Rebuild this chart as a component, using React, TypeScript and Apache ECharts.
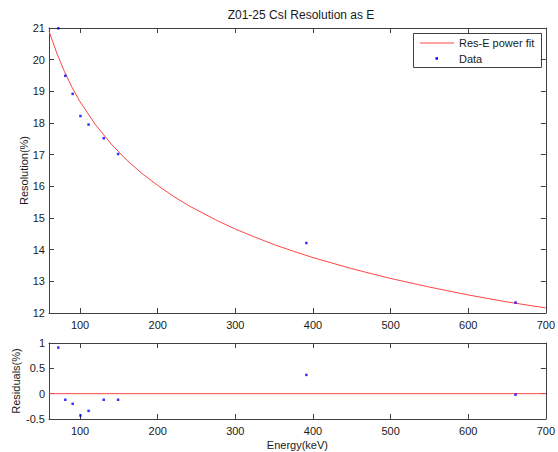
import React, { useEffect, useRef } from "react";
import * as echarts from "echarts";

// Measured data (energy keV, resolution %)
const dataEnergy = [72, 81, 90.5, 100.5, 111, 130.5, 149, 391.5, 661];
const dataResolution = [20.99, 19.49, 18.92, 18.22, 17.95, 17.52, 17.02, 14.21, 12.33];
const residuals = [0.91, -0.12, -0.2, -0.43, -0.34, -0.12, -0.12, 0.37, -0.02];

// Power-fit curve
const fitEnergy = [60, 70, 80, 90, 100, 120, 140, 160, 180, 200, 220, 240, 250, 275, 300, 325, 350, 375, 400, 450, 500, 550, 600, 650, 700];
const fitResolution = [20.9, 20.21, 19.62, 19.11, 18.67, 17.94, 17.34, 16.83, 16.4, 16.03, 15.69, 15.39, 15.26, 14.94, 14.65, 14.4, 14.16, 13.95, 13.75, 13.4, 13.09, 12.82, 12.57, 12.35, 12.16];

const xTicks = [100, 200, 300, 400, 500, 600, 700];
const titleText = "Z01-25 CsI Resolution as E";
const legendNames = ["Res-E power fit", "Data"];

const FONT = "Liberation Sans, Arial, sans-serif";
const AXIS = "#404040";
const LABEL = "#1a1a1a";
const RED = "#ff4444";
const BLUE = "#0000ff";

export default function App() {
  const ref = useRef<HTMLDivElement>(null);
  useEffect(() => {
    if (!ref.current) return;
    const chart = echarts.init(ref.current, null, { renderer: "svg" });

    const xBase = (grid: number, pos: "top" | "bottom", labels: boolean, extra: any = {}) => ({
      type: "value",
      gridIndex: grid,
      position: pos,
      min: 60,
      max: 700,
      axisLine: { show: true, onZero: false, lineStyle: { color: AXIS, width: 1 } },
      axisTick: { show: true, inside: true, length: 5, customValues: xTicks, lineStyle: { color: AXIS } },
      axisLabel: {
        show: labels,
        customValues: xTicks,
        fontSize: 11,
        fontFamily: FONT,
        color: LABEL,
        margin: 6,
        showMinLabel: true,
        showMaxLabel: true,
      },
      splitLine: { show: false },
      ...extra,
    });

    const yBase = (grid: number, pos: "left" | "right", labels: boolean, min: number, max: number, interval: number, extra: any = {}) => ({
      type: "value",
      gridIndex: grid,
      position: pos,
      min,
      max,
      interval,
      axisLine: { show: true, onZero: false, lineStyle: { color: AXIS, width: 1 } },
      axisTick: { show: true, inside: true, length: 5, lineStyle: { color: AXIS } },
      axisLabel: {
        show: labels,
        fontSize: 11,
        fontFamily: FONT,
        color: LABEL,
        margin: 4,
        showMinLabel: true,
        showMaxLabel: true,
      },
      splitLine: { show: false },
      ...extra,
    });

    const pairs = (xs: number[], ys: number[]) => xs.map((x, i) => [x, ys[i]]);

    chart.setOption({
      animation: false,
      backgroundColor: "#ffffff",
      grid: [
        { left: 49, top: 28, width: 497.5, height: 285 },
        { left: 49, top: 343, width: 497.5, height: 76 },
      ],
      xAxis: [
        xBase(0, "bottom", true),
        xBase(0, "top", false),
        xBase(1, "bottom", true, {
          name: "Energy(keV)",
          nameLocation: "middle",
          nameGap: 20,
          nameMoveOverlap: false,
          nameTextStyle: { fontSize: 11, fontFamily: FONT, color: LABEL },
        }),
        xBase(1, "top", false),
      ],
      yAxis: [
        yBase(0, "left", true, 12, 21, 1, {
          name: "Resolution(%)",
          nameLocation: "middle",
          nameGap: 20,
          nameMoveOverlap: false,
          nameTextStyle: { fontSize: 11, fontFamily: FONT, color: LABEL },
        }),
        yBase(0, "right", false, 12, 21, 1),
        yBase(1, "left", true, -0.5, 1, 0.5, {
          name: "Residuals(%)",
          nameLocation: "middle",
          nameGap: 28,
          nameMoveOverlap: false,
          nameTextStyle: { fontSize: 11, fontFamily: FONT, color: LABEL },
        }),
        yBase(1, "right", false, -0.5, 1, 0.5),
      ],
      series: [
        {
          name: legendNames[0],
          type: "line",
          xAxisIndex: 0,
          yAxisIndex: 0,
          data: pairs(fitEnergy, fitResolution),
          showSymbol: false,
          smooth: false,
          lineStyle: { color: RED, width: 1 },
          z: 2,
        },
        {
          name: legendNames[1],
          type: "scatter",
          xAxisIndex: 0,
          yAxisIndex: 0,
          data: pairs(dataEnergy, dataResolution),
          symbol: "rect",
          symbolSize: 2.5,
          itemStyle: { color: BLUE },
          clip: false,
          z: 3,
        },
        {
          name: "zero",
          type: "line",
          xAxisIndex: 2,
          yAxisIndex: 2,
          data: [[60, 0], [700, 0]],
          showSymbol: false,
          lineStyle: { color: RED, width: 1 },
          z: 2,
        },
        {
          name: "residuals",
          type: "scatter",
          xAxisIndex: 2,
          yAxisIndex: 2,
          data: pairs(dataEnergy, residuals),
          symbol: "rect",
          symbolSize: 2.5,
          itemStyle: { color: BLUE },
          clip: false,
          z: 3,
        },
      ],
      graphic: [
        {
          type: "text",
          x: 301,
          y: 15,
          style: {
            text: titleText,
            fontSize: 12,
            fontFamily: FONT,
            fill: LABEL,
            textAlign: "center",
            textVerticalAlign: "middle",
          },
        },
        {
          type: "group",
          z: 100,
          children: [
            {
              type: "rect",
              shape: { x: 413.5, y: 33.5, width: 128, height: 34 },
              style: { fill: "#ffffff", stroke: AXIS, lineWidth: 1 },
            },
            {
              type: "line",
              shape: { x1: 420, y1: 43, x2: 454, y2: 43 },
              style: { stroke: RED, lineWidth: 1 },
            },
            {
              type: "text",
              x: 459,
              y: 43,
              style: { text: legendNames[0], fontSize: 11, fontFamily: FONT, fill: LABEL, textVerticalAlign: "middle" },
            },
            {
              type: "rect",
              shape: { x: 435.5, y: 57.2, width: 2.5, height: 2.5 },
              style: { fill: BLUE },
            },
            {
              type: "text",
              x: 459,
              y: 58.5,
              style: { text: legendNames[1], fontSize: 11, fontFamily: FONT, fill: LABEL, textVerticalAlign: "middle" },
            },
          ],
        },
      ],
    });
    return () => chart.dispose();
  }, []);
  return <div ref={ref} style={{ position: "absolute", left: 0, top: 0, width: 558, height: 452 }} />;
}
